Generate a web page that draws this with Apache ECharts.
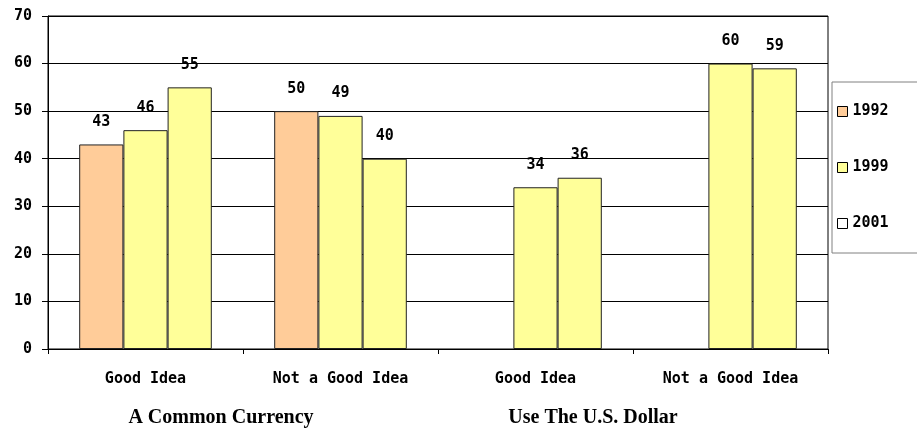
<!DOCTYPE html>
<html>
<head>
<meta charset="utf-8">
<script src="https://cdn.jsdelivr.net/npm/echarts@6/dist/echarts.min.js"></script>
<style>
  html, body { margin: 0; padding: 0; background: #fff; }
  #chart { width: 917px; height: 430px; }
</style>
</head>
<body>
<div id="chart"></div>
<script>
// categories and groups
const categories = ['Good Idea', 'Not a Good Idea', 'Good Idea', 'Not a Good Idea']
const groups = ['A Common Currency', 'Use The U.S. Dollar']

// values per year (null = no bar)
const y1992 = [43, 50, null, null]
const y1999 = [46, 49, 34, 60]
const y2001 = [55, 40, 36, 59]

const mono = 'DejaVu Sans Mono'

let myChart = echarts.init(document.getElementById('chart'))

const barLabel = {
    show: true,
    position: 'top',
    distance: 15,
    color: '#000',
    fontFamily: mono,
    fontWeight: 'bold',
    fontSize: 15
}

// group labels sit a bit left of the group centre
const groupPad = [44, 80]

let option = {
    animation: false,
    grid: {
        left: 48,
        right: 89,
        top: 16,
        bottom: 81,
        show: true,
        borderColor: '#000',
        borderWidth: 1
    },
    legend: {
        orient: 'vertical',
        left: 832,
        top: 82,
        padding: [22, 40, 22, 5],
        itemGap: 41,
        itemWidth: 10,
        itemHeight: 10,
        icon: 'rect',
        borderColor: '#808080',
        borderWidth: 1,
        textStyle: {
            fontFamily: mono,
            fontWeight: 'bold',
            fontSize: 15,
            color: '#000'
        },
        data: [
            { name: '1992', itemStyle: { color: '#FFCC99', borderColor: '#000', borderWidth: 1 } },
            { name: '1999', itemStyle: { color: '#FFFF99', borderColor: '#000', borderWidth: 1 } },
            { name: '2001', itemStyle: { color: '#FFFFFF', borderColor: '#000', borderWidth: 1 } }
        ]
    },
    xAxis: [{
        type: 'category',
        data: categories,
        axisLine: { lineStyle: { color: '#000' } },
        axisTick: { show: true, length: 5, lineStyle: { color: '#000' } },
        axisLabel: {
            margin: 23,
            color: '#000',
            fontFamily: mono,
            fontWeight: 'bold',
            fontSize: 15
        }
    }, {
        type: 'category',
        data: groups,
        position: 'bottom',
        axisLine: { show: false },
        axisTick: { show: false },
        axisLabel: {
            margin: 59,
            formatter: (v, i) => '{g' + i + '|' + v + '}',
            rich: {
                g0: { padding: [0, groupPad[0], 0, 0] },
                g1: { padding: [0, groupPad[1], 0, 0] }
            },
            color: '#000',
            fontFamily: 'Liberation Serif',
            fontWeight: 'bold',
            fontSize: 20
        }
    }],
    yAxis: {
        type: 'value',
        min: 0,
        max: 70,
        interval: 10,
        axisLine: { show: true, lineStyle: { color: '#000' } },
        axisTick: { show: true, length: 6, lineStyle: { color: '#000' } },
        splitLine: { lineStyle: { color: '#000', width: 1 } },
        axisLabel: {
            margin: 16,
            color: '#000',
            fontFamily: mono,
            fontWeight: 'bold',
            fontSize: 15
        }
    },
    series: [{
        name: '1992',
        type: 'bar',
        data: y1992,
        barGap: 0,
        barCategoryGap: '32%',
        itemStyle: { color: '#FFCC99', borderColor: '#222', borderWidth: 1 },
        label: barLabel
    }, {
        name: '1999',
        type: 'bar',
        data: y1999,
        itemStyle: { color: '#FFFF99', borderColor: '#222', borderWidth: 1 },
        label: barLabel
    }, {
        name: '2001',
        type: 'bar',
        data: y2001,
        itemStyle: { color: '#FFFF99', borderColor: '#222', borderWidth: 1 },
        label: barLabel
    }]
}

myChart.setOption(option)
</script>
</body>
</html>
